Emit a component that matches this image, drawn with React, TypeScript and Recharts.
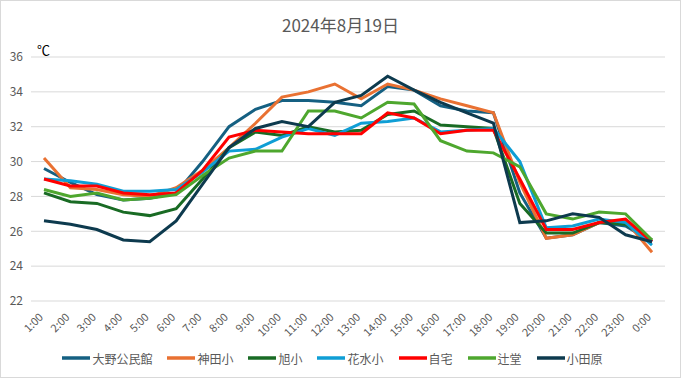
import React from 'react';
import { LineChart, Line, XAxis, YAxis, CartesianGrid, Legend } from 'recharts';

const hours = ['1:00', '2:00', '3:00', '4:00', '5:00', '6:00', '7:00', '8:00', '9:00', '10:00', '11:00', '12:00', '13:00', '14:00', '15:00', '16:00', '17:00', '18:00', '19:00', '20:00', '21:00', '22:00', '23:00', '0:00'];

const ohnoKominkan = [29.6, 28.8, 28.1, 27.8, 27.9, 28.2, 30.0, 32.0, 33.0, 33.5, 33.5, 33.4, 33.2, 34.3, 34.1, 33.2, 32.9, 32.8, 28.2, 25.6, 25.8, 26.5, 26.3, 25.4];
const kandaSho = [30.2, 28.5, 28.4, 28.1, 28.0, 28.5, 29.5, 30.8, 32.2, 33.7, 34.0, 34.45, 33.6, 34.45, 34.1, 33.6, 33.2, 32.8, 28.8, 25.6, 25.8, 26.5, 26.6, 24.8];
const asahiSho = [28.2, 27.7, 27.6, 27.1, 26.9, 27.3, 29.0, 30.8, 31.7, 31.5, 32.0, 31.7, 31.8, 32.7, 32.9, 32.1, 32.0, 31.9, 27.6, 25.9, 25.9, 26.5, 26.4, 25.5];
const hanamizuSho = [29.0, 28.9, 28.7, 28.3, 28.3, 28.4, 29.4, 30.6, 30.7, 31.4, 31.9, 31.5, 32.2, 32.3, 32.5, 31.7, 31.8, 31.9, 30.0, 26.2, 26.3, 26.7, 26.5, 25.2];
const jitaku = [29.0, 28.6, 28.6, 28.2, 28.1, 28.2, 29.5, 31.4, 31.8, 31.7, 31.6, 31.6, 31.6, 32.8, 32.5, 31.6, 31.8, 31.8, 29.0, 26.1, 26.1, 26.5, 26.7, 25.4];
const tsujido = [28.4, 28.0, 28.2, 27.8, 27.9, 28.1, 29.2, 30.2, 30.6, 30.6, 32.9, 32.9, 32.5, 33.4, 33.3, 31.2, 30.6, 30.5, 29.7, 27.0, 26.7, 27.1, 27.0, 25.5];
const odawara = [26.6, 26.4, 26.1, 25.5, 25.4, 26.6, 28.7, 30.8, 31.9, 32.3, 32.0, 33.4, 33.8, 34.9, 34.1, 33.4, 32.8, 32.2, 26.5, 26.6, 27.0, 26.8, 25.8, 25.4];

const seriesNames = ['大野公民館', '神田小', '旭小', '花水小', '自宅', '辻堂', '小田原'];
const seriesValues = [ohnoKominkan, kandaSho, asahiSho, hanamizuSho, jitaku, tsujido, odawara];
const seriesColors = ['#156082', '#E97132', '#196B24', '#0F9ED5', '#FF0000', '#4EA72E', '#0D3A4E'];
const yTicks = [22, 24, 26, 28, 30, 32, 34, 36];

const data = hours.map((h, i) => {
  const row: Record<string, string | number> = { hour: h };
  seriesNames.forEach((n, s) => {
    row[n] = seriesValues[s][i];
  });
  return row;
});

const FONT = '"Noto Sans CJK JP", "Noto Sans", sans-serif';

const XTick = (props: any) => {
  const { x, y, payload } = props;
  return (
    <g transform={`translate(${x - 3},${y + 6})`}>
      <text x={0} y={0} dy={4} textAnchor="end" fill="#595959" fontSize={11} fontFamily={FONT} transform="rotate(-45)">
        {payload.value}
      </text>
    </g>
  );
};

const renderLegend = () => (
  <div style={{ display: 'flex', justifyContent: 'center', alignItems: 'center', fontFamily: FONT, fontSize: 12, color: '#595959', height: '100%' }}>
    {seriesNames.map((n, i) => (
      <span key={n} style={{ display: 'flex', alignItems: 'center', marginRight: i < seriesNames.length - 1 ? 15 : 0 }}>
        <svg width={28} height={6} style={{ display: 'block' }}>
          <line x1={0} y1={3} x2={28} y2={3} stroke={seriesColors[i]} strokeWidth={3.5} />
        </svg>
        <span style={{ marginLeft: 2 }}>{n}</span>
      </span>
    ))}
  </div>
);

export default function App() {
  return (
    <div style={{ position: 'absolute', left: 0, top: 0, width: 681, height: 378, background: '#fff' }}>
      <div style={{ position: 'absolute', left: 0, top: 12, width: 681, textAlign: 'center', fontFamily: FONT, fontSize: 17, color: '#595959' }}>
        2024年8月19日
      </div>
      <div style={{ position: 'absolute', left: 37, top: 40, fontFamily: FONT, fontSize: 13, color: '#000' }}>℃</div>
      <LineChart width={681} height={378} data={data} margin={{ top: 57, right: 16, bottom: 0, left: 0 }}>
        <CartesianGrid horizontal={true} vertical={false} stroke="#D9D9D9" />
        <XAxis dataKey="hour" interval={0} tickLine={false} axisLine={false} height={45} padding={{ left: 13, right: 13 }} tick={<XTick />} />
        <YAxis domain={[22, 36]} ticks={yTicks} width={31} tickLine={false} axisLine={false} tick={{ fill: '#595959', fontSize: 12, fontFamily: FONT }} />
        <Legend verticalAlign="bottom" height={32} content={renderLegend} wrapperStyle={{ bottom: 4 }} />
        {seriesNames.map((n, i) => (
          <Line key={n} type="linear" dataKey={n} stroke={seriesColors[i]} strokeWidth={3} dot={false} isAnimationActive={false} />
        ))}
      </LineChart>
      <div style={{ position: 'absolute', left: 0, top: 0, width: 681, height: 378, boxSizing: 'border-box', border: '1px solid #D9D9D9', pointerEvents: 'none' }} />
    </div>
  );
}
